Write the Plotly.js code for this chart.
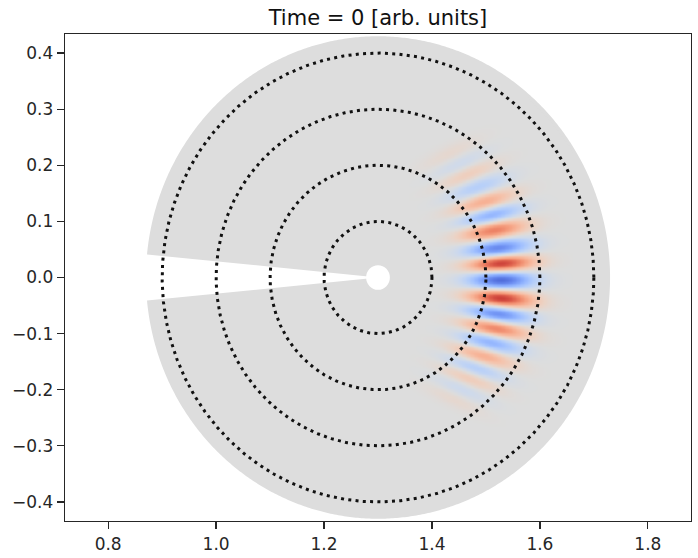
<!DOCTYPE html>
<html>
<head>
<meta charset="utf-8">
<script src="https://cdn.plot.ly/plotly-3.0.1.min.js"></script>
<style>
html,body{margin:0;padding:0;background:#ffffff;}
#chart{width:698px;height:558px;}
</style>
</head>
<body>
<div id="chart"></div>
<script>
// ---- geometry ----
const centerX = 1.3;
const centerY = 0.0;
const diskRadius = 0.43;
const wedgeHalfAngleDeg = 5.5;
const holeRadius = 0.022;
const guideRadii = [0.1, 0.2, 0.3, 0.4];

// ---- wave-packet bands ----
// polar position of each band centre (degrees, radius), its signed amplitude and the tilt of its long axis (degrees)
const bandAngleDeg = [59, 53.3, 48, 41.3, 34.7, 28.2, 21.7, 13.4, 6.5, -1, -9.2, -16, -22.6, -29, -35.6, -41.6, -46.8, -52, -57];
const bandRadius   = [0.259, 0.254, 0.247, 0.244, 0.237, 0.235, 0.229, 0.226, 0.227, 0.226, 0.229, 0.229, 0.234, 0.237, 0.238, 0.241, 0.246, 0.252, 0.258];
const bandAmp      = [0.08, -0.12, 0.19, -0.29, 0.43, -0.54, 0.68, -0.8, 1.0, -0.94, 0.97, -0.78, 0.66, -0.52, 0.42, -0.29, 0.2, -0.13, 0.08];
const bandTiltDeg  = [25, 23, 21, 18, 15, 12, 9, 6, 3, 0, -4, -7, -10, -12, -15, -18, -20, -22, -24];
const bandHalfLength = 0.058;
const bandWidthFactor = 0.55;

// ---- tick labels ----
const xTickVals = [0.8, 1.0, 1.2, 1.4, 1.6, 1.8];
const xTickText = ['0.8', '1.0', '1.2', '1.4', '1.6', '1.8'];
const yTickVals = [-0.4, -0.3, -0.2, -0.1, 0.0, 0.1, 0.2, 0.3, 0.4];
const yTickText = ['\u22120.4', '\u22120.3', '\u22120.2', '\u22120.1', '0.0', '0.1', '0.2', '0.3', '0.4'];

// ---- matplotlib coolwarm ----
const coolwarmStops = [0, 0.0625, 0.125, 0.1875, 0.25, 0.3125, 0.375, 0.4375, 0.5, 0.5625, 0.625, 0.6875, 0.75, 0.8125, 0.875, 0.9375, 1];
const coolwarmColors = ['rgb(59,76,192)', 'rgb(77,104,215)', 'rgb(98,130,234)', 'rgb(119,154,247)', 'rgb(141,176,254)', 'rgb(163,194,255)', 'rgb(184,208,249)', 'rgb(204,217,238)', 'rgb(221,221,221)', 'rgb(236,211,197)', 'rgb(245,196,173)', 'rgb(247,177,148)', 'rgb(244,154,123)', 'rgb(236,127,99)', 'rgb(222,96,77)', 'rgb(203,62,56)', 'rgb(180,4,38)'];
const colorscale = coolwarmStops.map((s, i) => [s, coolwarmColors[i]]);

const deg = Math.PI / 180;

// disk with wedge cut (as a path shape under the traces)
let diskPath = '';
const nArc = 720;
for (let i = 0; i <= nArc; i++) {
  const a = wedgeHalfAngleDeg * deg + (2 * Math.PI - 2 * wedgeHalfAngleDeg * deg) * i / nArc;
  const px = centerX - diskRadius * Math.cos(a);
  const py = centerY + diskRadius * Math.sin(a);
  diskPath += (i === 0 ? 'M' : 'L') + px.toFixed(5) + ',' + py.toFixed(5) + ' ';
}
diskPath += 'L' + centerX + ',' + centerY + ' Z';

// band centres in data coordinates and their across-band widths (from neighbour spacing)
const nb = bandAngleDeg.length;
const bcx = bandAngleDeg.map((a, k) => centerX + bandRadius[k] * Math.cos(a * deg));
const bcy = bandAngleDeg.map((a, k) => centerY + bandRadius[k] * Math.sin(a * deg));
const bandWidth = bandAngleDeg.map((a, k) => {
  const d = [];
  if (k > 0) d.push(Math.hypot(bcx[k] - bcx[k - 1], bcy[k] - bcy[k - 1]));
  if (k < nb - 1) d.push(Math.hypot(bcx[k] - bcx[k + 1], bcy[k] - bcy[k + 1]));
  return bandWidthFactor * d.reduce((s, v) => s + v, 0) / d.length;
});

// field grid built from the bands
const gx = [], gy = [];
for (let x = 1.36; x <= 1.6601; x += 0.0025) gx.push(+x.toFixed(4));
for (let y = -0.32; y <= 0.3201; y += 0.0025) gy.push(+y.toFixed(4));
const gz = gy.map(y => gx.map(x => {
  const r = Math.hypot(x - centerX, y - centerY);
  if (r > diskRadius - 0.006) return null;
  let v = 0;
  for (let k = 0; k < nb; k++) {
    const t = bandTiltDeg[k] * deg;
    const ex = x - bcx[k], ey = y - bcy[k];
    const u = (ex * Math.cos(t) + ey * Math.sin(t)) / bandHalfLength;
    const w = (-ex * Math.sin(t) + ey * Math.cos(t)) / bandWidth[k];
    v += bandAmp[k] * Math.exp(-u * u - w * w);
  }
  return v;
}));

const traces = [];
traces.push({
  type: 'heatmap', x: gx, y: gy, z: gz, colorscale: colorscale,
  zmin: -1.05, zmax: 1.05, zsmooth: 'best', showscale: false, hoverinfo: 'skip'
});
guideRadii.forEach(rr => {
  const cx = [], cy = [];
  for (let i = 0; i <= 1440; i++) {
    const a = 2 * Math.PI * i / 1440;
    cx.push(centerX + rr * Math.cos(a));
    cy.push(centerY + rr * Math.sin(a));
  }
  traces.push({
    type: 'scatter', mode: 'lines', x: cx, y: cy,
    line: {color: '#111111', width: 3, dash: '3px,4.3px'},
    hoverinfo: 'skip', showlegend: false
  });
});

const axisCommon = {
  showgrid: false, zeroline: false, showline: true, mirror: true,
  linecolor: '#262626', linewidth: 1.3,
  ticks: 'outside', ticklen: 7, tickwidth: 1.3, tickcolor: '#262626',
  tickfont: {family: 'DejaVu Sans', size: 17, color: '#262626'},
  tickmode: 'array', fixedrange: true
};

const layout = {
  width: 698, height: 558,
  margin: {l: 65, r: 7, t: 34, b: 37, pad: 0},
  paper_bgcolor: '#ffffff', plot_bgcolor: '#ffffff',
  showlegend: false,
  title: {
    text: 'Time = 0 [arb. units]',
    font: {family: 'DejaVu Sans', size: 21, color: '#111111'},
    x: 0.5415, xref: 'container', xanchor: 'center',
    y: 0.968, yref: 'container', yanchor: 'middle'
  },
  shapes: [
    {type: 'path', xref: 'x', yref: 'y', path: diskPath, fillcolor: 'rgb(221,221,221)', line: {width: 0}, layer: 'below'},
    {type: 'circle', xref: 'x', yref: 'y', x0: centerX - holeRadius, x1: centerX + holeRadius,
     y0: centerY - holeRadius, y1: centerY + holeRadius, fillcolor: '#ffffff', line: {width: 0}, layer: 'below'}
  ],
  xaxis: Object.assign({}, axisCommon, {range: [0.72, 1.88], tickvals: xTickVals, ticktext: xTickText}),
  yaxis: Object.assign({}, axisCommon, {range: [-0.434, 0.434], tickvals: yTickVals, ticktext: yTickText})
};

Plotly.newPlot('chart', traces, layout, {staticPlot: true, displayModeBar: false});
</script>
</body>
</html>
